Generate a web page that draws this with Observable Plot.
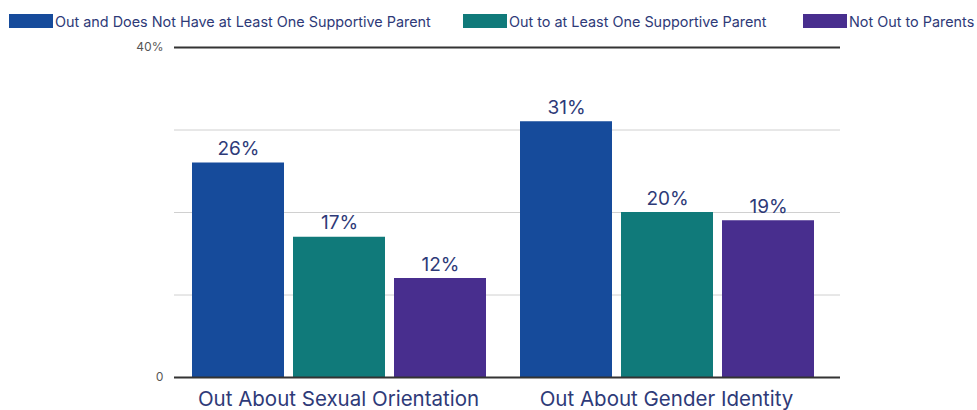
<!DOCTYPE html>
<html>
<head>
<meta charset="utf-8">
<script src="https://cdn.jsdelivr.net/npm/d3@7"></script>
<script src="https://cdn.jsdelivr.net/npm/@observablehq/plot@0.6"></script>
<style>
  body { margin: 0; background: #fff; font-family: Inter, "Noto Sans", sans-serif; }
  #legend { position: relative; height: 36px; width: 977px; }
  .item { position: absolute; top: 13px; display: flex; align-items: center; height: 16px; }
  .sw { width: 44px; height: 14px; margin-right: 2px; }
  .lab { font-size: 14.4px; color: #2e3a78; white-space: nowrap; }
</style>
</head>
<body>
<div id="legend"></div>
<div id="chart"></div>
<script>
const groups = ["Out About Sexual Orientation", "Out About Gender Identity"];
const series = [
  "Out and Does Not Have at Least One Supportive Parent",
  "Out to at Least One Supportive Parent",
  "Not Out to Parents"
];
const sexualValues = [26, 17, 12];
const genderValues = [31, 20, 19];
const colors = ["#164b9b", "#107a7a", "#482e8e"];
const yTicks = [0, 40];
const gridValues = [10, 20, 30];
const legendLefts = [9, 463, 803];

const valuesByGroup = [sexualValues, genderValues];
const data = groups.flatMap((g, i) => series.map((s, j) => ({group: g, series: s, value: valuesByGroup[i][j]})));

const legend = document.getElementById("legend");
series.forEach((s, i) => {
  const it = document.createElement("div");
  it.className = "item";
  it.style.left = legendLefts[i] + "px";
  it.innerHTML = `<div class="sw" style="background:${colors[i]}"></div><span class="lab">${s}</span>`;
  legend.appendChild(it);
});

const lineMarks = (values, opts) => [
  Plot.ruleY(values, {...opts, fx: () => groups[0]}),
  Plot.ruleY(values, {...opts, fx: () => groups[1], insetRight: -10})
];

const chart = Plot.plot({
  width: 977,
  height: 374,
  marginLeft: 174,
  marginRight: 147,
  marginTop: 11,
  marginBottom: 33,
  style: {fontFamily: "Inter, 'Noto Sans', sans-serif", background: "#fff"},
  fx: {domain: groups, paddingInner: 0, paddingOuter: 0, axis: null, label: null},
  x: {domain: series, axis: null, paddingInner: 0.09, paddingOuter: 0, insetLeft: 17, insetRight: 16},
  y: {domain: [0, 40], axis: null},
  color: {domain: series, range: colors},
  marks: [
    ...lineMarks(gridValues, {stroke: "#d0d0d0", strokeWidth: 1}),
    Plot.barY(data, {fx: "group", x: "series", y: "value", fill: "series"}),
    ...lineMarks(yTicks, {stroke: "#333", strokeWidth: 2}),
    Plot.text(data, {fx: "group", x: "series", y: "value", text: d => d.value + "%", dy: -8, lineAnchor: "bottom", fontSize: 19, fill: "#2e3a78"}),
    Plot.axisY(yTicks, {tickSize: 0, tickPadding: 11, tickFormat: d => d === 0 ? "0" : d + "%", fontSize: 12, fill: "#555", label: null}),
    Plot.axisFx({anchor: "bottom", tickSize: 0, tickPadding: 14, fontSize: 20.5, fill: "#2e3a78", label: null})
  ]
});
document.getElementById("chart").appendChild(chart);
</script>
</body>
</html>
